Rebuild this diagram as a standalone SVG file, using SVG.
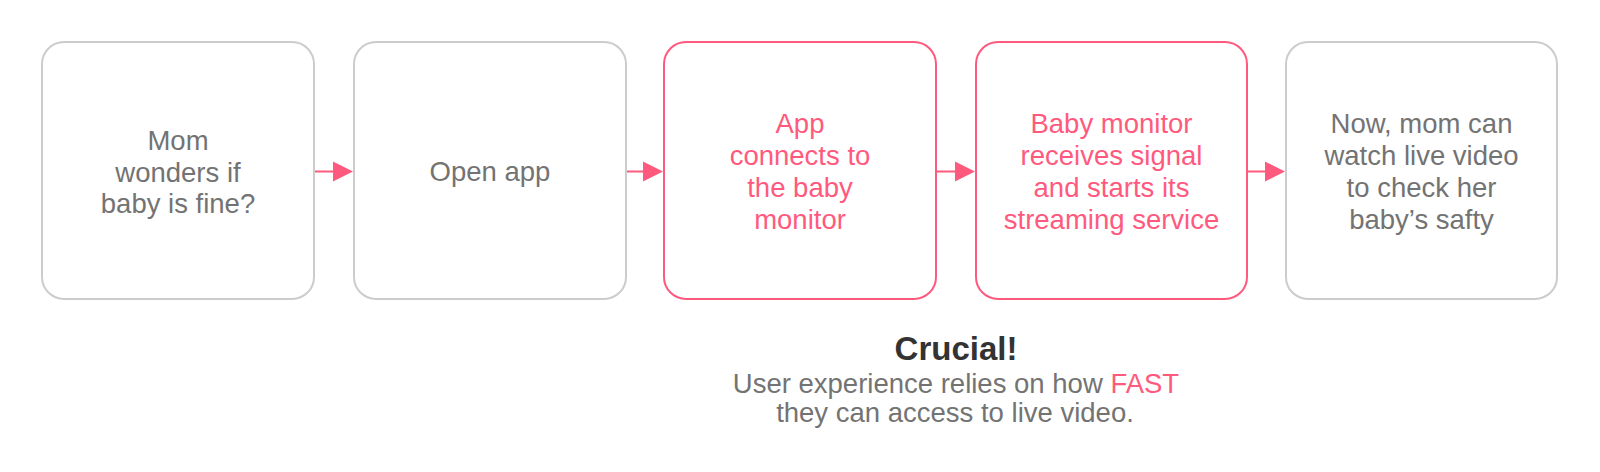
<svg xmlns="http://www.w3.org/2000/svg" width="1600" height="472" viewBox="0 0 1600 472">
<defs>
<style>
.box{fill:#fff;stroke:#cccccc;stroke-width:2}
.hot{fill:#fff;stroke:#ff5a7e;stroke-width:2}
.t{font-family:"Liberation Sans",Arial,Helvetica,sans-serif;font-size:27.5px;text-anchor:middle;fill:#737373}
.th{fill:#ff5a7e}
.conn{stroke:#ff5a7e;stroke-width:2;fill:none}
.head{fill:#ff5a7e}
</style>
</defs>
<rect width="1600" height="472" fill="#fff"/>
<g id="connectors">
<line class="conn" x1="315" y1="171.5" x2="334" y2="171.5"/><polygon class="head" points="333,161.5 353,171.5 333,181.5"/>
<line class="conn" x1="627" y1="171.5" x2="644" y2="171.5"/><polygon class="head" points="643,161.5 663,171.5 643,181.5"/>
<line class="conn" x1="937" y1="171.5" x2="956" y2="171.5"/><polygon class="head" points="955,161.5 975,171.5 955,181.5"/>
<line class="conn" x1="1248" y1="171.5" x2="1266" y2="171.5"/><polygon class="head" points="1265,161.5 1285,171.5 1265,181.5"/>
</g>
<g id="n1">
<rect class="box" x="42" y="42" width="272" height="257" rx="22"/>
<text class="t" x="178" y="150">Mom</text>
<text class="t" x="178" y="181.5">wonders if</text>
<text class="t" x="178" y="213">baby is fine?</text>
</g>
<g id="n2">
<rect class="box" x="354" y="42" width="272" height="257" rx="22"/>
<text class="t" x="490" y="181">Open app</text>
</g>
<g id="n3">
<rect class="hot" x="664" y="42" width="272" height="257" rx="22"/>
<text class="t th" x="800" y="133">App</text>
<text class="t th" x="800" y="165">connects to</text>
<text class="t th" x="800" y="197">the baby</text>
<text class="t th" x="800" y="229">monitor</text>
</g>
<g id="n4">
<rect class="hot" x="976" y="42" width="271" height="257" rx="22"/>
<text class="t th" x="1111.5" y="133">Baby monitor</text>
<text class="t th" x="1111.5" y="165">receives signal</text>
<text class="t th" x="1111.5" y="197">and starts its</text>
<text class="t th" x="1111.5" y="229">streaming service</text>
</g>
<g id="n5">
<rect class="box" x="1286" y="42" width="271" height="257" rx="22"/>
<text class="t" x="1421.5" y="133">Now, mom can</text>
<text class="t" x="1421.5" y="165">watch live video</text>
<text class="t" x="1421.5" y="197">to check her</text>
<text class="t" x="1421.5" y="229">baby’s safty</text>
</g>
<g id="note">
<text class="t" x="956" y="360" style="font-size:33px;font-weight:bold;fill:#333333">Crucial!</text>
<text class="t" x="956" y="392.5">User experience relies on how <tspan fill="#ff5a7e">FAST</tspan></text>
<text class="t" x="955" y="421.5">they can access to live video.</text>
</g>
</svg>
